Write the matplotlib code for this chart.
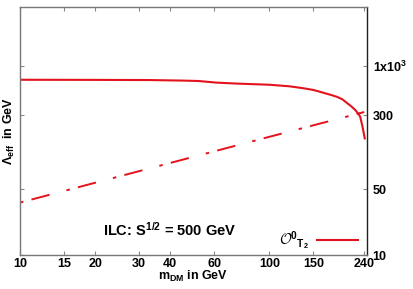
import matplotlib
matplotlib.use("Agg")
import matplotlib.pyplot as plt

# solid curve: Lambda_eff limit for O^0_T2
m_solid = [10, 20, 33, 45, 52, 57, 61, 74, 100, 120, 136, 150, 159, 175, 186,
           196, 204, 213, 221, 227, 231, 236, 241]
lam_solid = [711, 709, 706, 697, 690, 675, 664, 648, 630, 607, 580, 555, 532, 495, 471,
             442, 407, 372, 340, 312, 290, 228, 171]

# dash-dot line
m_dash = [10, 100, 240]
lam_dash = [36, 178, 325]

xticks = [10, 15, 20, 30, 40, 60, 100, 150, 240]
yticks = [10, 50, 300, 1000]
ytick_labels = ["10", "50", "300", "1x10$^{3}$"]

red = "#e3121c"

plt.rcParams["font.family"] = "Liberation Sans"
plt.rcParams["font.weight"] = "bold"
plt.rcParams["mathtext.fontset"] = "custom"
plt.rcParams["mathtext.rm"] = "Liberation Sans:bold"
plt.rcParams["mathtext.bf"] = "Liberation Sans:bold"
plt.rcParams["mathtext.it"] = "Liberation Sans:italic"
plt.rcParams["mathtext.cal"] = "cmsy10"
plt.rcParams["mathtext.default"] = "bf"

fig = plt.figure(figsize=(4.13, 2.89), dpi=100)
ax = fig.add_axes([0.0484, 0.1166, 0.8402, 0.858])

ax.plot(m_solid, lam_solid, color=red, lw=1.5, label=r"$\mathcal{O}^{0}{}_{T_2}$")
ax.plot(m_dash, lam_dash, color=red, lw=1.4,
        ls=(18.6, (9.6, 9.0, 1.8, 4.3)))

ax.set_xscale("log")
ax.set_yscale("log")
ax.set_xlim(10, 246)
ax.set_ylim(10, 4130)

ax.set_xticks(xticks)
ax.set_xticklabels([str(t) for t in xticks])
ax.xaxis.set_minor_locator(matplotlib.ticker.NullLocator())
ax.set_yticks(yticks)
ax.set_yticklabels(ytick_labels)
ax.yaxis.set_minor_locator(matplotlib.ticker.NullLocator())

ax.tick_params(axis="both", direction="in", length=3, width=0.8, color="#888888",
               labelsize=9, top=True, right=True)
ax.tick_params(axis="x", pad=2)
ax.tick_params(axis="y", left=True, labelleft=False, labelright=True, pad=4)

for side in ["left", "bottom", "top"]:
    ax.spines[side].set_color("#777777")
ax.spines["right"].set_color("#222222")
for s in ax.spines.values():
    s.set_linewidth(1.0)

ax.set_xlabel("m$_{DM}$ in GeV", fontsize=9, fontweight="bold", labelpad=-1)
ax.set_ylabel(r"$\mathit{\Lambda}_{eff}$  in GeV", fontsize=9, fontweight="bold", labelpad=2)

ax.text(0.432, 0.102, "ILC: S$^{1/2}$ = 500 GeV", transform=ax.transAxes,
        ha="center", va="center", fontsize=10.5, fontweight="bold")

ax.legend(loc="center right", bbox_to_anchor=(0.975, 0.06), frameon=False,
          markerfirst=False, handlelength=2.8, borderpad=0, borderaxespad=0,
          fontsize=10.5, handletextpad=0.6)

fig.savefig("out.png", dpi=100)
